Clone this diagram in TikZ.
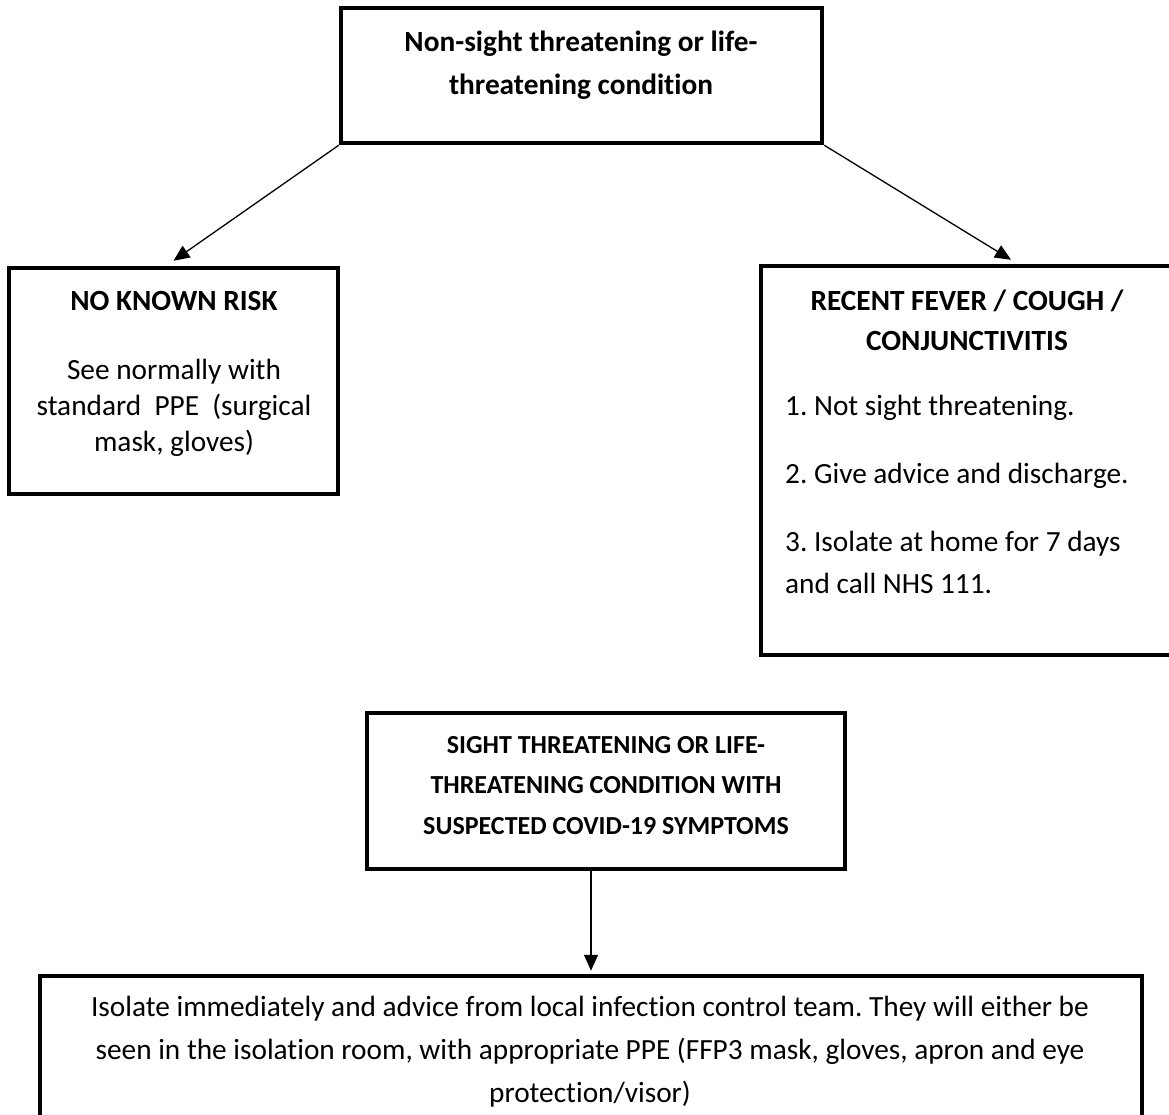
\documentclass[tikz,border=0pt]{standalone}
\usepackage{fontspec}
\setmainfont{Carlito}[Ligatures=NoCommon]
\usetikzlibrary{arrows.meta,positioning}
\frenchspacing

\tikzset{
  box/.style={draw, line width=4.5pt, rectangle, inner sep=0pt},
  conn/.style={-{Triangle[length=16pt,width=14pt]}, line width=1.3pt},
  headtxt/.style={font=\bfseries\fontsize{29.3}{41}\selectfont, align=center, inner sep=0pt, anchor=north},
  bodytxt/.style={font=\fontsize{29.3}{43}\selectfont, align=center, inner sep=0pt, anchor=north},
}

\begin{document}
\begin{tikzpicture}[x=1pt,y=-1pt]
\useasboundingbox (0,0) rectangle (1169,1115);
% boxes
\node[box, minimum width=481pt, minimum height=135pt] (top) at (581.5,75.5) {};
\node[box, minimum width=329pt, minimum height=226pt] (lbox) at (173.5,381) {};
\node[box, minimum width=419pt, minimum height=389pt] (rbox) at (970.5,460.5) {};
\node[box, minimum width=478pt, minimum height=156pt] (mid) at (606,791) {};
\node[box, minimum width=1102pt, minimum height=159pt] (low) at (591,1055.5) {};
% texts
\node[headtxt, font=\bfseries\fontsize{29.3}{43}\selectfont] (toptxt) at (581,31)
  {Non-sight threatening or life-\\threatening condition};
\node[headtxt] (lhead) at (174,291) {NO KNOWN RISK};
\node[bodytxt, font=\fontsize{29.3}{36}\selectfont] (lbody) at (174,359)
  {See normally with\\standard~~PPE~~(surgical\\mask, gloves)};
\node[headtxt, font=\bfseries\fontsize{29.3}{40}\selectfont] (rhead) at (967,290)
  {RECENT FEVER / COUGH /\\CONJUNCTIVITIS};
\node[bodytxt, font=\fontsize{29.3}{42}\selectfont, align=left, anchor=north west] (rbody) at (785,395)
  {1. Not sight threatening.\\[26pt]2. Give advice and discharge.\\[26pt]3. Isolate at home for 7 days\\and call NHS 111.};
\node[headtxt, font=\bfseries\fontsize{26}{40.5}\selectfont] (midtxt) at (606,736)
  {SIGHT THREATENING OR LIFE-\\THREATENING CONDITION WITH\\SUSPECTED COVID-19 SYMPTOMS};
\node[bodytxt] (lowtxt) at (590,996)
  {Isolate immediately and advice from local infection control team. They will either be\\seen in the isolation room, with appropriate PPE (FFP3 mask, gloves, apron and eye\\protection/visor)};
% connectors
\draw[conn] (top.south west) -- ([yshift=5pt]lbox.north);
\draw[conn] (top.south east) -- ([xshift=40.5pt,yshift=4pt]rbox.north);
\draw[conn] (mid.south -| low.north) -- ([yshift=3pt]low.north);
\end{tikzpicture}
\end{document}
